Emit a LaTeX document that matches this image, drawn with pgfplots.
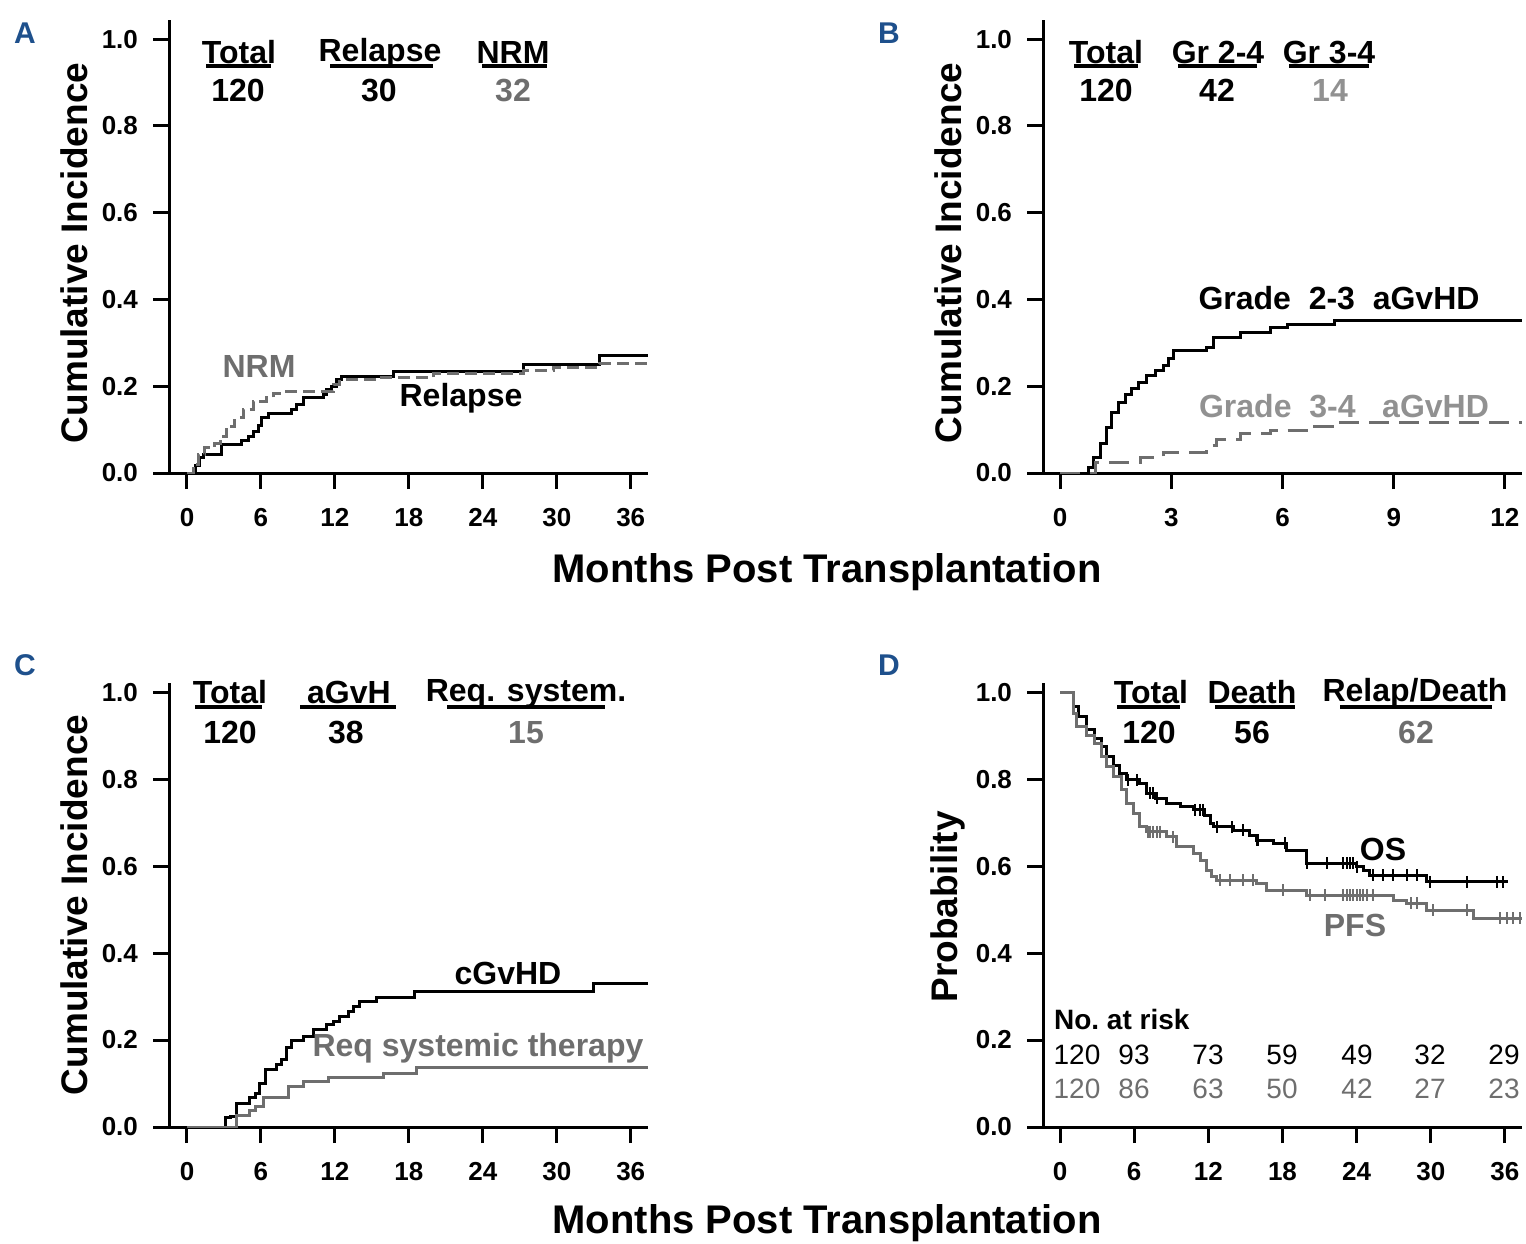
\documentclass[border=0pt]{standalone}
\usepackage{pgfplots}
\pgfplotsset{compat=1.18}
\usepackage{fontspec}
\setmainfont{Liberation Sans}
\definecolor{g1}{RGB}{110,110,110}
\definecolor{g2}{RGB}{145,145,145}
\definecolor{lblue}{RGB}{30,80,140}
\newcommand\hdr{\fontsize{16}{18}\selectfont\bfseries}
\newcommand\ann{\fontsize{16}{18}\selectfont\bfseries}
\newcommand\ylab{\fontsize{18.5}{20}\selectfont\bfseries}
\newcommand\xlab{\fontsize{20}{22}\selectfont\bfseries}
\newcommand\risk{\fontsize{14}{16}\selectfont}
\newcommand\panel{\fontsize{15}{17}\selectfont\bfseries}
\pgfplotsset{
 km/.style={
  scale only axis, axis lines=left,
  axis line style={-, line width=1.5pt},
  tick style={black, line width=1.5pt},
  major tick length=8pt, tick align=outside,
  ymin=0, ytick={0,0.2,0.4,0.6,0.8,1}, yticklabels={0.0,0.2,0.4,0.6,0.8,1.0},
  ticklabel style={font=\fontsize{13}{15}\selectfont\bfseries},
  yticklabel style={xshift=-4pt},
  xticklabel style={yshift=-6pt},
  anchor=south west, width=239.5pt,
  every axis plot/.append style={line width=1.5pt, mark=none, const plot},
 },
 cens/.style={only marks, mark=|, mark size=3pt, mark options={line width=1pt}, line width=1pt}
}
\begin{document}
\begin{tikzpicture}
\useasboundingbox (0,0) rectangle (763pt,-621.5pt);
% Panel A
\begin{axis}[km, at={(84.5pt,-236.5pt)}, height=226.5pt, xmin=-1.46, xmax=37.4, ymax=1.044,
  xtick={0,6,12,18,24,30,36}, xticklabels={0,6,12,18,24,30,36}]
\addplot[black] coordinates {(0,0) (0.65,0.017) (1.05,0.035) (1.3,0.042) (2.81,0.065) (4.43,0.075) (4.97,0.085) (5.4,0.096) (5.78,0.11) (6.05,0.127) (6.6,0.138) (8.49,0.146) (8.9,0.157) (9.43,0.173) (11.06,0.18) (11.33,0.192) (11.73,0.2) (12.14,0.215) (12.54,0.223) (16.73,0.234) (27.28,0.25) (33.5,0.27) (37.4,0.27)};
\addplot[g1, dash pattern=on 6pt off 3pt] coordinates {(0,0) (0.5,0.02) (0.92,0.042) (1.46,0.058) (2.27,0.069) (2.68,0.085) (3.2,0.1) (3.49,0.108) (3.89,0.127) (4.57,0.146) (5.38,0.165) (6.46,0.173) (7.0,0.184) (7.81,0.188) (11.87,0.204) (12.41,0.215) (15.65,0.219) (19.98,0.23) (27.28,0.236) (29.71,0.244) (33.5,0.253) (37.4,0.253)};
\end{axis}
% Panel B
\begin{axis}[km, at={(521.5pt,-236.5pt)}, height=226.5pt, xmin=-0.46, xmax=12.46, ymax=1.044,
  xtick={0,3,6,9,12}, xticklabels={0,3,6,9,12}]
\addplot[black] coordinates {(0,0) (0.586,0) (0.766,0.013) (0.9,0.036) (1.08,0.067) (1.26,0.105) (1.40,0.14) (1.58,0.163) (1.76,0.182) (1.94,0.194) (2.12,0.209) (2.34,0.224) (2.57,0.236) (2.79,0.247) (2.93,0.263) (3.06,0.282) (3.96,0.29) (4.14,0.313) (4.86,0.324) (5.68,0.336) (6.13,0.343) (7.39,0.351) (12.46,0.351)};
\addplot[g1, dash pattern=on 10pt off 5pt] coordinates {(0,0) (0.95,0.025) (2.16,0.036) (2.79,0.048) (3.96,0.063) (4.23,0.078) (4.86,0.09) (5.68,0.098) (6.85,0.107) (7.39,0.117) (12.46,0.117)};
\end{axis}
% Panel C
\begin{axis}[km, at={(84.5pt,-563.5pt)}, height=222pt, xmin=-1.46, xmax=37.4, ymax=1.021,
  xtick={0,6,12,18,24,30,36}, xticklabels={0,6,12,18,24,30,36}]
\addplot[black] coordinates {(0,0) (3.16,0.021) (3.54,0.025) (4.03,0.055) (5.11,0.067) (5.52,0.078) (5.92,0.101) (6.33,0.132) (7.27,0.143) (7.68,0.155) (8.09,0.182) (8.49,0.2) (9.43,0.208) (10.25,0.224) (11.33,0.235) (11.87,0.243) (12.41,0.254) (13.08,0.266) (13.49,0.277) (14.03,0.289) (15.38,0.297) (18.49,0.312) (32.95,0.329) (37.4,0.329)};
\addplot[g1] coordinates {(0,0) (4.03,0.027) (5.11,0.038) (5.52,0.048) (6.19,0.067) (8.22,0.093) (9.43,0.105) (11.46,0.114) (15.92,0.124) (18.63,0.136) (37.4,0.136)};
\end{axis}
% Panel D
\begin{axis}[km, at={(521.5pt,-563.5pt)}, height=222pt, xmin=-1.375, xmax=37.38, ymax=1.021,
  xtick={0,6,12,18,24,30,36}, xticklabels={0,6,12,18,24,30,36}]
\addplot[black] coordinates {(0,1) (1.08,0.966) (1.48,0.943) (2.16,0.913) (2.83,0.893) (3.37,0.874) (3.78,0.851) (4.31,0.832) (4.85,0.813) (5.39,0.798) (6.47,0.79) (7.01,0.767) (7.69,0.756) (8.63,0.744) (9.71,0.736) (10.79,0.729) (11.73,0.717) (12.14,0.698) (12.4,0.69) (14.02,0.683) (15.37,0.671) (15.91,0.66) (17.26,0.652) (18.34,0.637) (19.96,0.606) (24.0,0.598) (24.54,0.591) (25.08,0.579) (29.67,0.564) (36.27,0.564)};
\addplot[g1] coordinates {(0,1) (1.08,0.951) (1.35,0.92) (2.16,0.901) (2.83,0.882) (3.37,0.851) (3.78,0.828) (4.31,0.805) (4.99,0.775) (5.39,0.744) (5.93,0.721) (6.47,0.69) (7.01,0.679) (8.63,0.667) (9.44,0.644) (10.79,0.629) (11.33,0.614) (11.87,0.591) (12.27,0.575) (12.68,0.568) (15.91,0.56) (16.72,0.545) (19.96,0.533) (26.97,0.522) (28.05,0.514) (29.67,0.499) (33.44,0.48) (37.35,0.48)};
\addplot[cens, black] coordinates {(5.53,0.798) (6.2,0.798) (7.28,0.767) (7.55,0.767) (7.82,0.756) (10.92,0.729) (11.33,0.729) (11.6,0.729) (12.68,0.69) (13.89,0.69) (14.83,0.683) (15.91,0.66) (16.05,0.66) (18.2,0.652) (19.96,0.606) (21.58,0.606) (22.92,0.606) (23.19,0.606) (23.46,0.606) (23.73,0.606) (24.0,0.598) (25.35,0.579) (26.16,0.579) (26.97,0.579) (28.05,0.579) (28.86,0.579) (29.94,0.564) (32.9,0.564) (35.33,0.564) (35.87,0.564)};
\addplot[cens, g1] coordinates {(7.1,0.679) (7.28,0.679) (7.55,0.679) (7.82,0.679) (8.09,0.679) (9.17,0.667) (12.94,0.568) (13.75,0.568) (14.83,0.568) (15.64,0.568) (18.07,0.545) (20.2,0.533) (21.44,0.533) (22.92,0.533) (23.19,0.533) (23.46,0.533) (23.73,0.533) (24.0,0.533) (24.27,0.533) (24.54,0.533) (24.81,0.533) (25.35,0.533) (28.4,0.514) (28.86,0.514) (30.2,0.499) (32.9,0.499) (35.6,0.48) (36.14,0.48) (36.67,0.48) (37.2,0.48)};
\end{axis}
% Text
\begin{scope}[x=0.5pt,y=-0.5pt]
\node[font=\panel, text=lblue] at (25,33) {A};
\node[font=\panel, text=lblue] at (889,33) {B};
\node[font=\panel, text=lblue] at (25,665) {C};
\node[font=\panel, text=lblue] at (889,665) {D};
\node[font=\ylab, rotate=90] at (74,253) {Cumulative Incidence};
\node[font=\ylab, rotate=90] at (948,253) {Cumulative Incidence};
\node[font=\ylab, rotate=90] at (74,905) {Cumulative Incidence};
\node[font=\ylab, rotate=90] at (948,907) {Probability};
\node[font=\xlab] at (827,572) {Months Post Transplantation};
\node[font=\xlab] at (827,1223) {Months Post Transplantation};
% headers A
\node[font=\hdr, anchor=base] at (239,63) {Total};
\node[font=\hdr, anchor=base] at (380,61) {Relapse};
\node[font=\hdr, anchor=base] at (513,63) {NRM};
\draw[line width=1.6pt] (206,66) -- (271,66) (330,66) -- (433,66) (482,66) -- (547,66);
\node[font=\hdr, anchor=base] at (238,101) {120};
\node[font=\hdr, anchor=base] at (379,101) {30};
\node[font=\hdr, anchor=base, text=g1] at (513,101) {32};
% headers B
\node[font=\hdr, anchor=base] at (1106,63) {Total};
\node[font=\hdr, anchor=base] at (1218,63) {Gr 2-4};
\node[font=\hdr, anchor=base] at (1329,63) {Gr 3-4};
\draw[line width=1.6pt] (1074,66) -- (1138,66) (1178,66) -- (1257,66) (1289,66) -- (1369,66);
\node[font=\hdr, anchor=base] at (1106,101) {120};
\node[font=\hdr, anchor=base] at (1217,101) {42};
\node[font=\hdr, anchor=base, text=g2] at (1330,101) {14};
% headers C
\node[font=\hdr, anchor=base] at (230,703) {Total};
\node[font=\hdr, anchor=base] at (349,703) {aGvH};
\node[font=\hdr, anchor=base] at (526,701) {Req. system.};
\draw[line width=1.6pt] (195,707) -- (262,707) (300,707) -- (396,707) (447,707) -- (605,707);
\node[font=\hdr, anchor=base] at (230,743) {120};
\node[font=\hdr, anchor=base] at (346,743) {38};
\node[font=\hdr, anchor=base, text=g1] at (526,743) {15};
% headers D
\node[font=\hdr, anchor=base] at (1151,703) {Total};
\node[font=\hdr, anchor=base] at (1252,703) {Death};
\node[font=\hdr, anchor=base] at (1415,701) {Relap/Death};
\draw[line width=1.6pt] (1117,707) -- (1180,707) (1215,707) -- (1295,707) (1340,707) -- (1492,707);
\node[font=\hdr, anchor=base] at (1149,743) {120};
\node[font=\hdr, anchor=base] at (1252,743) {56};
\node[font=\hdr, anchor=base, text=g1] at (1416,743) {62};
% annotations
\node[font=\ann, text=g1] at (259,366) {NRM};
\node[font=\ann] at (461,398) {Relapse};
\node[font=\ann] at (1339,298) {Grade\ \ 2-3\ \ aGvHD};
\node[font=\ann, text=g2] at (1344,406) {Grade\ \ 3-4\ \ \ aGvHD};
\node[font=\ann] at (508,973) {cGvHD};
\node[font=\ann, text=g1] at (478,1048) {Req systemic therapy};
\node[font=\ann] at (1383,849) {OS};
\node[font=\ann, text=g1] at (1355,925) {PFS};
\node[font=\risk\bfseries, anchor=west] at (1047,1019) {No.\ at risk};
\foreach \x/\n in {1077/120,1134/93,1208/73,1282/59,1357/49,1430/32,1504/29}
  \node[font=\risk] at (\x,1055) {\n};
\foreach \x/\n in {1077/120,1134/86,1208/63,1282/50,1357/42,1430/27,1504/23}
  \node[font=\risk, text=g1] at (\x,1089) {\n};
\end{scope}
\end{tikzpicture}
\end{document}
